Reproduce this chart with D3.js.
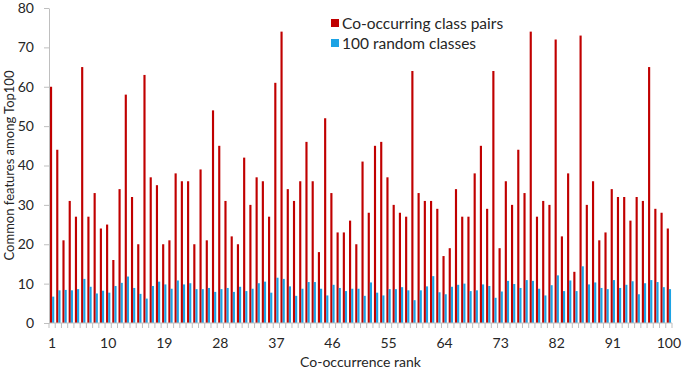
<!DOCTYPE html>
<html lang="en">
<head>
  <meta charset="UTF-8">
  <script src="https://cdn.jsdelivr.net/npm/d3@7/dist/d3.min.js"></script>
  <title>Co-occurrence rank</title>
  <style>
    body { margin: 0; background: #fff; }
    text { font-family: Lato, "Open Sans", sans-serif; fill: #262626; }
    .axis path, .axis line { stroke: #bfbfbf; }
  </style>
</head>
<body>
  <script>
    // ranks 1..100
    const ranks = d3.range(1, 101)
    const seriesNames = ['Co-occurring class pairs', '100 random classes']
    const seriesColors = ['#c00000', '#1ca3e4']

    const pairs = [60, 44, 21, 31, 27, 65, 27, 33, 24, 25,
      16, 34, 58, 32, 20, 63, 37, 35, 20, 21,
      38, 36, 36, 20, 39, 21, 54, 45, 31, 22,
      20, 42, 30, 37, 36, 27, 61, 74, 34, 31,
      36, 46, 36, 18, 52, 33, 23, 23, 26, 20,
      41, 28, 45, 46, 37, 30, 28, 27, 64, 33,
      31, 31, 29, 17, 19, 34, 27, 27, 38, 45,
      29, 64, 19, 36, 30, 44, 33, 74, 27, 31,
      30, 72, 22, 38, 13, 73, 30, 36, 21, 23,
      34, 32, 32, 26, 32, 31, 65, 29, 28, 24]

    const random = [6.7, 8.3, 8.4, 8.3, 8.6, 11.2, 9.2, 7.5, 8.2, 7.7,
      9.4, 10.2, 11.8, 8.9, 7.4, 6.2, 9.4, 10.5, 9.8, 8.7,
      10.8, 9.8, 10.1, 8.6, 8.6, 8.9, 7.9, 8.6, 8.9, 7.9,
      9.2, 8.1, 8.7, 10.1, 10.5, 7.7, 11.5, 11.2, 9.3, 6.9,
      8.7, 10.4, 10.4, 8.7, 7.0, 9.7, 8.9, 8.1, 8.7, 8.7,
      6.9, 10.3, 7.7, 7.0, 8.6, 8.6, 9.1, 8.3, 5.8, 8.3,
      9.3, 11.9, 7.8, 7.3, 9.2, 9.7, 10.0, 8.1, 8.3, 9.8,
      9.4, 6.4, 8.0, 10.7, 9.9, 8.9, 10.9, 10.7, 8.7, 7.0,
      9.6, 12.1, 8.1, 10.8, 8.1, 14.4, 9.8, 10.3, 8.9, 8.6,
      10.9, 8.9, 9.7, 10.6, 7.3, 10.1, 10.9, 10.4, 9.1, 8.6]

    const yTicks = [0, 10, 20, 30, 40, 50, 60, 70, 80]
    const xTickLabels = [1, 10, 19, 28, 37, 46, 55, 64, 73, 82, 91, 100]

    const width = 685, height = 372
    const margin = { top: 8, right: 13, bottom: 49, left: 49 }

    const svg = d3.select('body').append('svg')
      .attr('width', width)
      .attr('height', height)

    const x = d3.scaleBand().domain(ranks).range([margin.left, width - margin.right])
    const xs = d3.scaleBand().domain([0, 1]).range([0, x.bandwidth()]).paddingOuter(0.45)
    const y = d3.scaleLinear().domain([0, 80]).range([height - margin.bottom, margin.top])

    // bars
    const groups = svg.append('g').selectAll('g').data(ranks).enter().append('g')
      .attr('transform', d => `translate(${x(d)},0)`)
    groups.selectAll('rect')
      .data((d, i) => [pairs[i], random[i]])
      .enter().append('rect')
      .attr('x', (d, j) => xs(j))
      .attr('width', xs.bandwidth())
      .attr('y', d => y(d))
      .attr('height', d => y(0) - y(d))
      .attr('fill', (d, j) => seriesColors[j])

    // y axis
    const yAxis = svg.append('g').attr('class', 'axis')
      .attr('transform', `translate(${margin.left},0)`)
      .call(d3.axisLeft(y).tickValues(yTicks).tickSize(5).tickPadding(10).tickSizeOuter(0))
    yAxis.selectAll('text').style('font-size', '14px')

    // x axis: small tick at every category boundary, labels every 9th
    const xAxis = svg.append('g').attr('class', 'axis')
    xAxis.append('line')
      .attr('x1', margin.left).attr('x2', width - margin.right)
      .attr('y1', y(0)).attr('y2', y(0))
    xAxis.selectAll('line.tk').data(ranks.concat([101])).enter().append('line')
      .attr('class', 'tk')
      .attr('x1', d => d === 101 ? width - margin.right : x(d))
      .attr('x2', d => d === 101 ? width - margin.right : x(d))
      .attr('y1', y(0)).attr('y2', y(0) + 5)
    xAxis.selectAll('text').data(xTickLabels).enter().append('text')
      .attr('x', d => x(d) + x.bandwidth() / 2)
      .attr('y', y(0) + 25)
      .attr('text-anchor', 'middle')
      .style('font-size', '14px')
      .text(d => d)

    // axis titles
    svg.append('text')
      .attr('x', (margin.left + width - margin.right) / 2)
      .attr('y', 367)
      .attr('text-anchor', 'middle')
      .style('font-size', '14px')
      .text('Co-occurrence rank')
    svg.append('text')
      .attr('transform', `translate(14,${(y(0) + y(80)) / 2}) rotate(-90)`)
      .attr('text-anchor', 'middle')
      .style('font-size', '13px')
      .text('Common features among Top100')

    // legend
    const legend = svg.append('g').selectAll('g').data(seriesNames).enter().append('g')
      .attr('transform', (d, i) => `translate(331,${19 + i * 20})`)
    legend.append('rect')
      .attr('width', 8).attr('height', 8)
      .attr('fill', (d, i) => seriesColors[i])
    legend.append('text')
      .attr('x', 11).attr('y', 10)
      .style('font-size', '15.5px')
      .text(d => d)
  </script>
</body>
</html>
